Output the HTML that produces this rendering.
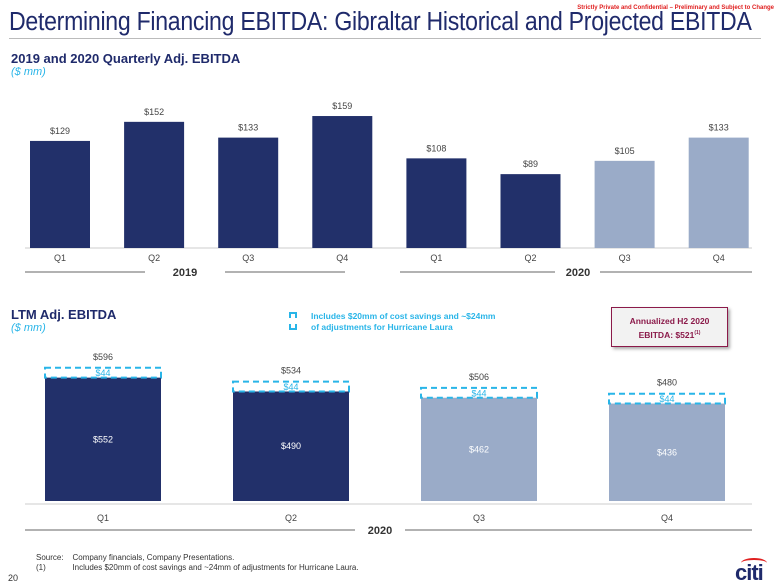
<!DOCTYPE html>
<html><head><meta charset="utf-8"><style>
body{margin:0;width:780px;height:585px;background:#fff;font-family:"Liberation Sans",Arial,sans-serif;overflow:hidden;position:relative}
.a{position:absolute;white-space:nowrap}
</style></head><body>
<div class="a" style="right:6px;top:5px;font-size:6px;color:#e02020;font-weight:bold">Strictly Private and Confidential – Preliminary and Subject to Change</div>
<div class="a" style="left:9px;top:8px;font-size:25.5px;color:#1f2a6b;letter-spacing:-0.3px;transform:scaleX(0.905);transform-origin:0 0">Determining Financing EBITDA: Gibraltar Historical and Projected EBITDA</div>
<div class="a" style="left:9px;top:38px;width:752px;height:1px;background:#bbb"></div>
<div class="a" style="left:11px;top:51px;font-size:13px;font-weight:bold;color:#1f2a6b">2019 and 2020 Quarterly Adj. EBITDA</div>
<div class="a" style="left:11px;top:66px;font-size:11px;font-style:italic;color:#29b5e8">($ mm)</div>
<div class="a" style="left:11px;top:307px;font-size:13px;font-weight:bold;color:#1f2a6b">LTM Adj. EBITDA</div>
<div class="a" style="left:11px;top:322px;font-size:11px;font-style:italic;color:#29b5e8">($ mm)</div>
<div class="a" style="left:293px;top:311px;font-size:8.5px;font-weight:bold;color:#29b5e8;line-height:11px">
<span style="position:absolute;left:-4px;top:1px;width:8px;height:18px;border:2px dashed #29b5e8;box-sizing:border-box"></span>
<div style="margin-left:18px">Includes $20mm of cost savings and ~$24mm<br>of adjustments for Hurricane Laura</div></div>
<div class="a" style="left:611px;top:307px;width:117px;height:40px;border:1.5px solid #8b1a4a;background:#f2f2f2;box-shadow:2px 2px 3px #aaa;font-size:8.5px;font-weight:bold;color:#8b1a4a;text-align:center;line-height:12px;box-sizing:border-box;padding-top:7px">Annualized H2 2020<br>EBITDA: $521<sup style="font-size:5px">(1)</sup></div>
<svg class="a" style="left:0;top:0" width="780" height="585" font-family="Liberation Sans, Arial, sans-serif">
<g id="topg"></g><g id="botg"></g>
<line x1="25" y1="272" x2="145" y2="272" stroke="#333" stroke-width="0.8"/><line x1="225" y1="272" x2="345" y2="272" stroke="#333" stroke-width="0.8"/>
<text x="185" y="276" font-size="11" font-weight="bold" fill="#333" text-anchor="middle">2019</text>
<line x1="400" y1="272" x2="555" y2="272" stroke="#333" stroke-width="0.8"/><line x1="600" y1="272" x2="752" y2="272" stroke="#333" stroke-width="0.8"/>
<text x="578" y="276" font-size="11" font-weight="bold" fill="#333" text-anchor="middle">2020</text>
<line x1="25" y1="530" x2="355" y2="530" stroke="#333" stroke-width="0.8"/><line x1="405" y1="530" x2="752" y2="530" stroke="#333" stroke-width="0.8"/>
<text x="380" y="534" font-size="11" font-weight="bold" fill="#333" text-anchor="middle">2020</text>
</svg>
<div class="a" style="left:36px;top:553px;font-size:8px;color:#333;line-height:10px">Source:&nbsp;&nbsp;&nbsp; Company financials, Company Presentations.<br>(1)&nbsp;&nbsp;&nbsp;&nbsp;&nbsp;&nbsp;&nbsp;&nbsp;&nbsp;&nbsp;&nbsp;&nbsp;Includes $20mm of cost savings and ~24mm of adjustments for Hurricane Laura.</div>
<div class="a" style="left:8px;top:573px;font-size:9px;color:#333">20</div>
<div class="a" style="left:735px;top:560px;font-size:22px;font-weight:bold;color:#1f2a6b;letter-spacing:-1px">citi<span style="position:absolute;left:6px;top:-2px;width:26px;height:8px;border-top:2px solid #e02020;border-radius:50% 50% 0 0"></span></div>
<script>
const topCats=["Q1","Q2","Q3","Q4","Q1","Q2","Q3","Q4"];
const topVals=[129,152,133,159,108,89,105,133];
const topProj=[false,false,false,false,false,false,true,true];
const ltmCats=["Q1","Q2","Q3","Q4"];
const ltmBase=[552,490,462,436];
const ltmAdj=[44,44,44,44];
const ltmProj=[false,false,true,true];
const NS="http://www.w3.org/2000/svg";
function mk(p,t,a,txt){const e=document.createElementNS(NS,t);for(const k in a)e.setAttribute(k,a[k]);if(txt!==undefined)e.textContent=txt;p.appendChild(e);return e;}
const tg=document.getElementById('topg'),bg=document.getElementById('botg');
const ty=v=>248-v*0.83, tx=i=>60+i*94.1;
mk(tg,'line',{x1:25,y1:248,x2:752,y2:248,stroke:'#ccc'});
topVals.forEach((v,i)=>{
 const r=mk(tg,'rect',{x:tx(i)-30,y:ty(v),width:60,height:248-ty(v),fill:topProj[i]?'#9aabc8':'#22306a'});
 
 
 mk(tg,'text',{x:tx(i),y:ty(v)-7,'font-size':9,fill:'#444','text-anchor':'middle'},'$'+v);
 mk(tg,'text',{x:tx(i),y:261,'font-size':9,fill:'#444','text-anchor':'middle'},topCats[i]);
});
const by=v=>501-v*0.2235, bx=i=>103+i*188;
mk(bg,'line',{x1:25,y1:504,x2:752,y2:504,stroke:'#ccc'});
ltmBase.forEach((v,i)=>{
 const tot=v+ltmAdj[i];
 const r=mk(bg,'rect',{x:bx(i)-58,y:by(v),width:116,height:501-by(v),fill:ltmProj[i]?'#9aabc8':'#22306a'});
 
 
 const d=mk(bg,'rect',{x:bx(i)-58,y:by(tot),width:116,height:by(v)-by(tot),fill:'none',stroke:'#29b5e8','stroke-width':2,'stroke-dasharray':'6,4'});
 
 
 mk(bg,'text',{x:bx(i),y:(by(tot)+by(v))/2+3.5,'font-size':9,fill:'#29b5e8','text-anchor':'middle'},'$'+ltmAdj[i]);
 mk(bg,'text',{x:bx(i),y:by(tot)-8,'font-size':9,fill:'#444','text-anchor':'middle'},'$'+tot);
 mk(bg,'text',{x:bx(i),y:(by(v)+501)/2+3,'font-size':9,fill:'#fff','text-anchor':'middle'},'$'+v);
 mk(bg,'text',{x:bx(i),y:521,'font-size':9,fill:'#444','text-anchor':'middle'},ltmCats[i]);
});
</script>
</body></html>
